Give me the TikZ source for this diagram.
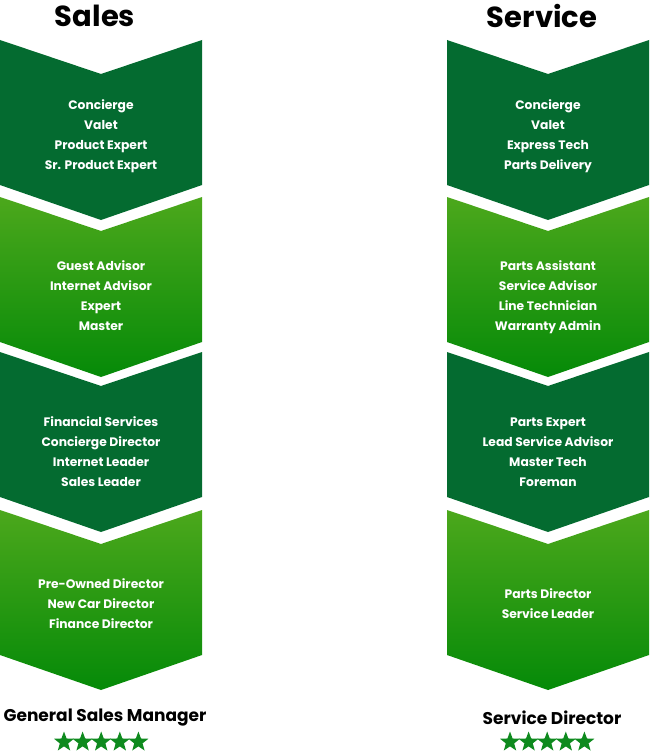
\documentclass[tikz,border=0pt]{standalone}
\usepackage{fontspec}
\setmainfont{Poppins}
\usetikzlibrary{shapes.geometric}
\definecolor{dk}{HTML}{046B30}
\definecolor{lt1}{HTML}{4CA81C}
\definecolor{lt2}{HTML}{058A08}
\definecolor{stc}{HTML}{0E8A1E}
\tikzset{
 lbl/.style={text=white,font=\fontsize{12.3}{20}\selectfont\bfseries,align=center,inner sep=0pt},
 ttl/.style={font=\fontsize{29}{30}\selectfont\bfseries,inner sep=0pt},
 ftr/.style={font=\fontsize{17}{18}\selectfont\bfseries,inner sep=0pt},
 st/.style={star,star points=5,star point ratio=2.4,fill=stc,minimum size=21pt,inner sep=0pt},
}
\newcommand{\chev}[4]{% x0, ytop, ybot, style
 \path[#4] (#1,#2) -- (#1+101,#2+34) -- (#1+202,#2) -- (#1+202,#3) -- (#1+101,#3+35) -- (#1,#3) -- cycle;}
\begin{document}
\begin{tikzpicture}[x=1pt,y=-1pt]
\useasboundingbox (0,0) rectangle (649,752);
\foreach \x in {0,447}{
 \chev{\x}{40}{185}{fill=dk}
 \chev{\x}{197}{342}{top color=lt1,bottom color=lt2}
 \chev{\x}{352}{497}{fill=dk}
 \chev{\x}{510}{655}{top color=lt1,bottom color=lt2}
}
\node[ttl] (t1) at (95,16) {Sales};
\node[ttl] (t2) at (542,16) {Service};
\node[lbl] (a1) at (101,136) {Concierge\\Valet\\Product Expert\\Sr. Product Expert};
\node[lbl] (a2) at (101,296) {Guest Advisor\\Internet Advisor\\Expert\\Master};
\node[lbl] (a3) at (101,452) {Financial Services\\Concierge Director\\Internet Leader\\Sales Leader};
\node[lbl] (a4) at (101,604) {Pre-Owned Director\\New Car Director\\Finance Director};
\node[lbl] (b1) at (548,136) {Concierge\\Valet\\Express Tech\\Parts Delivery};
\node[lbl] (b2) at (548,297) {Parts Assistant\\Service Advisor\\Line Technician\\Warranty Admin};
\node[lbl] (b3) at (548,452) {Parts Expert\\Lead Service Advisor\\Master Tech\\Foreman};
\node[lbl] (b4) at (548,604) {Parts Director\\Service Leader};
\node[ftr] (f1) at (105,718) {General Sales Manager};
\node[ftr] (f2) at (552,718) {Service Director};
\foreach \i in {0,...,4}{
 \node[st] (sa\i) at (64+\i*18.6,742) {};
 \node[st] (sb\i) at (510+\i*18.6,742) {};
}
\end{tikzpicture}
\end{document}
